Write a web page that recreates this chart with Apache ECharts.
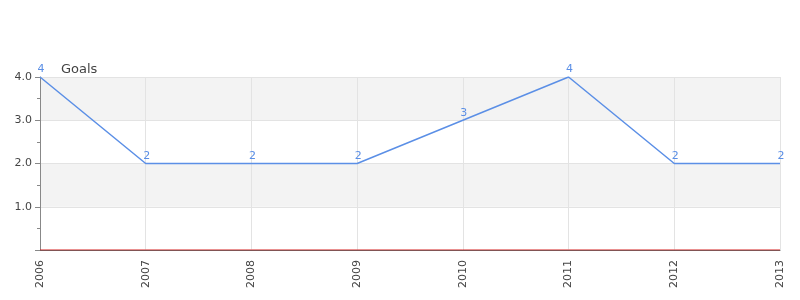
<!DOCTYPE html>
<html><head><meta charset="utf-8">
<script src="https://cdn.jsdelivr.net/npm/echarts@6/dist/echarts.min.js"></script>
<style>html,body{margin:0;padding:0;background:#fff}#c{width:800px;height:300px}</style>
</head><body><div id="c"></div>
<script>
const years = ['2006','2007','2008','2009','2010','2011','2012','2013'];
const goals = [4, 2, 2, 2, 3, 4, 2, 2];
const baseline = [0, 0, 0, 0, 0, 0, 0, 0];
const chart = echarts.init(document.getElementById('c'), null, {renderer:'canvas'});
chart.setOption({
  animation:false,
  title:{text:'Goals', left:56, top:58, textStyle:{fontSize:13, fontWeight:'normal', color:'#444', fontFamily:'DejaVu Sans'}},
  grid:{left:40, right:20, top:77, bottom:50, containLabel:false},
  xAxis:{type:'category', data:years, boundaryGap:false,
    axisLine:{lineStyle:{color:'#666', width:1}},
    axisTick:{show:false},
    axisLabel:{rotate:90, fontSize:11, color:'#444', fontFamily:'DejaVu Sans', margin:10, showMaxLabel:true},
    splitLine:{show:true, lineStyle:{color:'#e3e3e3'}}
  },
  yAxis:{type:'value', min:0, max:4, interval:1,
    axisLine:{show:true, lineStyle:{color:'#888'}},
    axisTick:{show:true, length:5, lineStyle:{color:'#888'}},
    minorTick:{show:true, splitNumber:2, length:3, lineStyle:{color:'#888'}},
    axisLabel:{fontSize:11, color:'#444', fontFamily:'DejaVu Sans', formatter:v=> v===0 ? '' : v.toFixed(1)},
    splitLine:{show:true, lineStyle:{color:'#e3e3e3'}},
    splitArea:{show:true, areaStyle:{color:['#ffffff','#f3f3f3']}}
  },
  series:[
    {name:'Goals', type:'line', data:goals, symbol:'circle', symbolSize:0, showSymbol:true,
     lineStyle:{color:'#5b8fe6', width:1.5}, itemStyle:{color:'#5b8fe6'},
     label:{show:true, position:'top', distance:2, color:'#5b8fe6', fontSize:11, fontFamily:'DejaVu Sans', offset:[1,0]}},
    {name:'base', type:'line', data:baseline, symbol:'none', z:1,
     lineStyle:{color:'#d42020', width:1}}
  ]
});
</script></body></html>
